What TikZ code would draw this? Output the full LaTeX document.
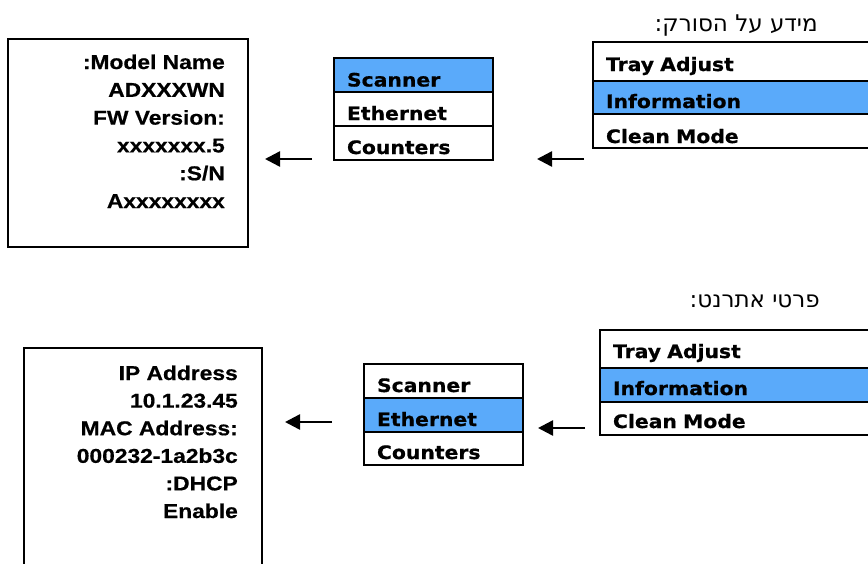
\documentclass[tikz,border=0pt]{standalone}
\usepackage{fontspec}
\usetikzlibrary{arrows.meta}
\TeXXeTstate=1
\newfontfamily\menufont{DejaVu Sans}[FakeStretch=1.1,FakeBold=0.8]
\newfontfamily\infofont{Liberation Sans}[FakeStretch=1.14,FakeBold=0.6]
\newfontfamily\hebfont{DejaVu Sans}[Script=Hebrew]
\definecolor{hl}{RGB}{90,170,250}
\begin{document}
\begin{tikzpicture}[x=1pt,y=-1pt,
  mrow/.style={draw=black, line width=2pt, inner xsep=13pt, inner ysep=0pt,
    anchor=north west, align=left,
    font=\menufont\bfseries\fontsize{18.5}{20}\selectfont},
  infobox/.style={draw=black, line width=2pt, inner sep=0pt, anchor=north west},
  infotext/.style={inner sep=0pt, anchor=base east,
    font=\infofont\bfseries\fontsize{20}{22}\selectfont},
  hebtitle/.style={inner sep=0pt, anchor=base east,
    font=\hebfont\fontsize{23}{26}\selectfont},
  arr/.style={line width=2.5pt, -{Triangle[length=15pt,width=15pt]}}]
\useasboundingbox (0,0) rectangle (868,563);

% ---------- top section ----------
\node[hebtitle] (t1) at (818,31) {\beginR מידע על הסורק:\endR};

% right menu
\node[mrow, text width=282pt, text height=29pt, text depth=10pt] (ta1) at (592,41) {Tray Adjust};
\node[mrow, fill=hl, text width=282pt, text height=27pt, text depth=6pt] (in1) at (592,80) {Information};
\node[mrow, text width=282pt, text height=29pt, text depth=5pt] (cm1) at (592,113) {Clean Mode};

% middle menu
\node[mrow, fill=hl, text width=133pt, text height=28.5pt, text depth=5.5pt] (sc1) at (333,57) {Scanner};
\node[mrow, text width=133pt, text height=28pt, text depth=6pt] (et1) at (333,91) {Ethernet};
\node[mrow, text width=133pt, text height=28pt, text depth=6pt] (co1) at (333,125) {Counters};

% info box
\node[infobox, minimum width=240pt, minimum height=208pt] (info1) at (7,38) {};
\node[infotext] (i1a) at (225,69) {:Model Name};
\node[infotext] (i1b) at (225,96.8) {ADXXXWN};
\node[infotext] (i1c) at (225,124.6) {FW Version:};
\node[infotext] (i1d) at (225,152.4) {xxxxxxx.5};
\node[infotext] (i1e) at (225,180.2) {:S/N};
\node[infotext] (i1f) at (225,208) {Axxxxxxxx};

% arrows
\coordinate (a2s) at (584,159);
\coordinate (a2e) at (537,159);
\coordinate (a1s) at (312,159);
\coordinate (a1e) at (265,159);
\draw[arr] (a2s) -- (a2e);
\draw[arr] (a1s) -- (a1e);

% ---------- bottom section ----------
\node[hebtitle] (t2) at (820,307) {\beginR פרטי אתרנט:\endR};

% right menu
\node[mrow, text width=282pt, text height=28pt, text depth=10pt] (ta2) at (599,329) {Tray Adjust};
\node[mrow, fill=hl, text width=282pt, text height=27pt, text depth=7pt] (in2) at (599,367) {Information};
\node[mrow, text width=282pt, text height=26pt, text depth=7pt] (cm2) at (599,401) {Clean Mode};

% middle menu
\node[mrow, text width=133pt, text height=28pt, text depth=6pt] (sc2) at (363,363) {Scanner};
\node[mrow, fill=hl, text width=133pt, text height=28pt, text depth=6pt] (et2) at (363,397) {Ethernet};
\node[mrow, text width=133pt, text height=27pt, text depth=6pt] (co2) at (363,431) {Counters};

% info box
\node[infobox, minimum width=238pt, minimum height=260pt] (info2) at (23,347) {};
\node[infotext] (i2a) at (238,380) {IP Address};
\node[infotext] (i2b) at (238,407.6) {10.1.23.45};
\node[infotext] (i2c) at (238,435.2) {MAC Address:};
\node[infotext] (i2d) at (238,462.8) {000232-1a2b3c};
\node[infotext] (i2e) at (238,490.4) {:DHCP};
\node[infotext] (i2f) at (238,518) {Enable};

% arrows
\coordinate (a4s) at (585,428);
\coordinate (a4e) at (538,428);
\coordinate (a3s) at (332,422);
\coordinate (a3e) at (285,422);
\draw[arr] (a4s) -- (a4e);
\draw[arr] (a3s) -- (a3e);
\end{tikzpicture}
\end{document}
